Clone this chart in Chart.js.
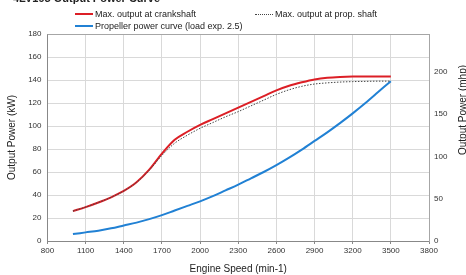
<!DOCTYPE html>
<html>
<head>
<meta charset="utf-8">
<script src="https://cdn.jsdelivr.net/npm/chart.js@4/dist/chart.umd.min.js"></script>
<style>
    html, body { margin: 0; padding: 0; background: #fff; }
    #wrap { position: relative; width: 466px; height: 275px; overflow: hidden; font-family: 'Liberation Sans', Arial, sans-serif; }
    #chart { position: absolute; left: 0; top: 0; }
    .title { position: absolute; left: 13px; top: -7px; font-size: 11px; line-height: 11px; font-weight: bold; color: #222; white-space: nowrap; }
    .item { position: absolute; font-size: 9px; line-height: 10px; color: #222; white-space: nowrap; }
    .swatch { position: absolute; width: 18px; height: 0; }
</style>
</head>
<body>
<div id="wrap">
    <canvas id="chart" width="466" height="275"></canvas>
    <div class="title">4LV195 Output Power Curve</div>
    <div class="swatch" style="left:75px; top:13px; border-top:2px solid #dc1f26;"></div>
    <div class="item" style="left:95px; top:9px;">Max. output at crankshaft</div>
    <div class="swatch" style="left:255px; top:14px; border-top:1px dotted #444;"></div>
    <div class="item" style="left:275px; top:9px;">Max. output at prop. shaft</div>
    <div class="swatch" style="left:75px; top:25px; border-top:2px solid #2181d4;"></div>
    <div class="item" style="left:95px; top:21px;">Propeller power curve (load exp. 2.5)</div>
</div>
<script>
// régime moteur (min-1)
const rpm = [1000, 1100, 1200, 1300, 1400, 1500, 1600, 1700, 1800, 1900, 2000, 2100, 2200,
    2300, 2400, 2500, 2600, 2700, 2800, 2900, 3000, 3100, 3200, 3300, 3400, 3500];

// puissance en kW
const crankshaftKw = [26, 29.5, 33.5, 38, 43.5, 51, 62, 76, 88, 95, 101, 106, 111,
    116, 121, 126, 131, 135, 138, 140.5, 142, 142.7, 143, 143, 143, 143];
const propShaftKw = [26, 29.5, 33.5, 38, 43.5, 51, 61.5, 74.5, 85, 92, 98, 103, 108,
    112.5, 117.5, 122.5, 127.5, 131.5, 134.5, 136.5, 137.5, 138.2, 138.6, 138.8, 139, 139];
const propellerKw = [6, 7.5, 9, 11, 13.5, 16, 19, 22.5, 26.5, 30.5, 34.5, 39, 44,
    49, 54.5, 60, 66, 72.5, 79.5, 87, 94.5, 102.5, 111, 120, 129.5, 139];

const kwTicks = [0, 20, 40, 60, 80, 100, 120, 140, 160, 180];
const mhpTicks = [0, 50, 100, 150, 200];
const KW_TO_MHP = 1.3596;

const FONT = 'Liberation Sans';
const GRID = '#d9d9d9';

function toPoints(values) {
    return rpm.map((x, i) => ({ x, y: values[i] }));
}

// bordure haute + titre de l'axe de droite (lu de bas en haut)
const framePlugin = {
    id: 'frame',
    afterDraw(chart) {
        const { ctx, chartArea } = chart;
        ctx.save();
        ctx.strokeStyle = '#a6a6a6';
        ctx.lineWidth = 1;
        ctx.beginPath();
        ctx.moveTo(chartArea.left, Math.round(chartArea.top) + 0.5);
        ctx.lineTo(chartArea.right, Math.round(chartArea.top) + 0.5);
        ctx.stroke();

        ctx.translate(463, 110);
        ctx.rotate(-Math.PI / 2);
        ctx.fillStyle = '#222';
        ctx.font = '10px "' + FONT + '"';
        ctx.textAlign = 'center';
        ctx.textBaseline = 'middle';
        ctx.fillText('Output Power (mhp)', 0, 0);
        ctx.restore();
    },
};

new Chart(document.getElementById('chart'), {
    type: 'line',
    data: {
        datasets: [
            {
                label: 'Max. output at prop. shaft',
                data: toPoints(propShaftKw),
                borderColor: '#444',
                borderWidth: 1,
                borderDash: [1.5, 1.5],
                order: 0,
            },
            {
                label: 'Max. output at crankshaft',
                data: toPoints(crankshaftKw),
                borderColor: '#dc1f26',
                borderWidth: 2,
                order: 1,
            },
            {
                label: 'Propeller power curve (load exp. 2.5)',
                data: toPoints(propellerKw),
                borderColor: '#2181d4',
                borderWidth: 2,
                order: 2,
            },
        ],
    },
    options: {
        responsive: false,
        animation: false,
        layout: { padding: { top: 34, left: 0, right: 0, bottom: 0 } },
        elements: {
            point: { radius: 0 },
            line: { cubicInterpolationMode: 'monotone', fill: false },
        },
        plugins: {
            legend: { display: false },
            tooltip: { enabled: false },
        },
        scales: {
            x: {
                type: 'linear',
                min: 800,
                max: 3800,
                ticks: {
                    stepSize: 300,
                    color: '#333',
                    font: { family: FONT, size: 8 },
                    padding: 2,
                    maxRotation: 0,
                    callback: (value) => String(value),
                },
                grid: { color: GRID, tickLength: 3, tickColor: '#888' },
                border: { color: '#888' },
                title: { display: true, text: 'Engine Speed (min-1)', color: '#222', font: { family: FONT, size: 10 }, padding: { top: 3, bottom: 0 } },
                afterFit: (scale) => { scale.height = 34; },
            },
            y: {
                position: 'left',
                min: 0,
                max: 180,
                afterBuildTicks: (scale) => { scale.ticks = kwTicks.map((value) => ({ value })); },
                ticks: { color: '#333', font: { family: FONT, size: 8 }, padding: 6 },
                grid: { color: GRID, drawTicks: false },
                border: { color: '#888' },
                title: { display: true, text: 'Output Power (kW)', color: '#222', font: { family: FONT, size: 10 }, padding: { top: 6, bottom: 0 } },
                afterFit: (scale) => { scale.width = 47.5; },
            },
            y1: {
                position: 'right',
                min: 0,
                max: 180 * KW_TO_MHP,
                afterBuildTicks: (scale) => { scale.ticks = mhpTicks.map((value) => ({ value })); },
                ticks: { color: '#333', font: { family: FONT, size: 8 }, padding: 5 },
                grid: { drawOnChartArea: false, drawTicks: false },
                border: { color: '#a6a6a6' },
                afterFit: (scale) => { scale.width = 37; },
            },
        },
    },
    plugins: [framePlugin],
});
</script>
</body>
</html>
